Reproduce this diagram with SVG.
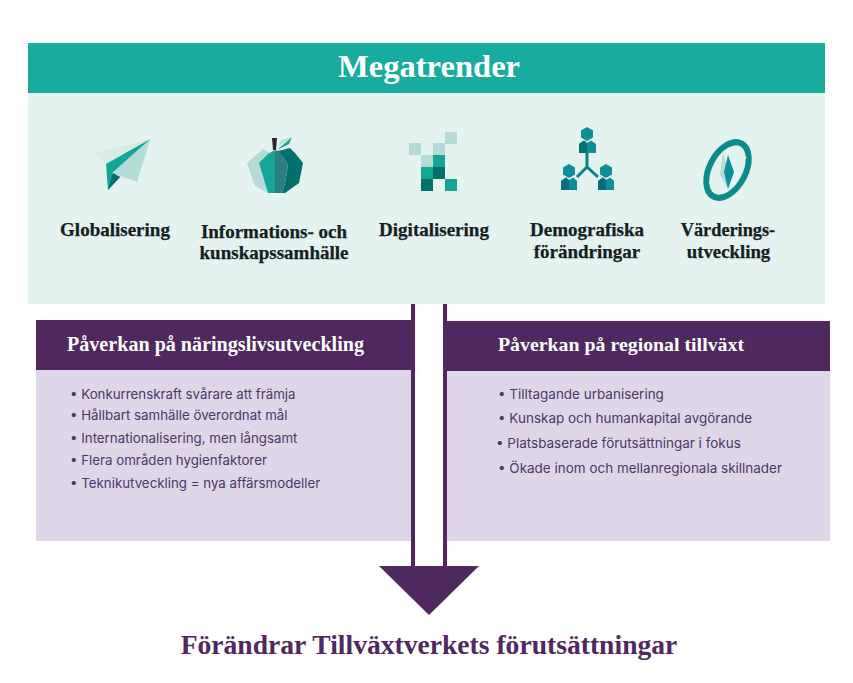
<svg xmlns="http://www.w3.org/2000/svg" width="853" height="683" viewBox="0 0 853 683">
<style>
.h{font-family:"Liberation Serif","DejaVu Serif",serif;font-weight:700}
.t{font-size:19px;fill:#14201f;text-anchor:middle;stroke:#14201f;stroke-width:.25}
.p{font-size:20.100px;fill:#fff}
.b{font-family:"Inter","Noto Sans",sans-serif;font-size:13.300px;fill:#4b3668}
.r{font-size:13.480px}
.pu{fill:#4f2860}.li{fill:#e0d6e9}
.a{fill:#b4dbd5}.c{fill:#14a597}.d{fill:#04706c}.e{fill:#0b8f98}.f{fill:#056f77}
</style>
<rect width="853" height="683" fill="#fff"/>
<g id="megatrender">
<rect x="28" y="93" width="797" height="211" fill="#e4f2f0"/>
<rect x="28" y="43" width="797" height="50" fill="#18ac9e"/>
<text x="429" y="77" text-anchor="middle" class="h" font-size="32.600" fill="#fff">Megatrender</text>
</g>
<g id="globalisering">
<path d="M95 153 150.300 139 106 164Z" fill="#d7ebe7"/>
<path d="M150.300 139 137 182 112 173Z" class="a"/>
<path d="M106 164 150.300 139 112 173 120 177 108 190Z" class="c"/>
<path d="M113 173 120 177 108 190Z" class="d"/>
<text x="115" y="236" class="h t">Globalisering</text>
</g>
<g id="informationssamhalle">
<path d="M263 149 270 153 259 163 268 193 255 186 247 163Z" class="a"/>
<path d="M259 163 268 154 275 150V193H268Z" class="c"/>
<path d="M275 150 282 155 288 165 285 183 282 193H275Z" fill="#2d7f7d"/>
<path d="M275 150 278 151 290 148 295 153 303 163 299 183 285 193H282L285 183 288 165 282 155Z" class="d"/>
<path d="M272 138H277L276 150H273Z" fill="#2a2a2a"/>
<path d="M277 150 292 137 289 144Z" class="c"/>
<path d="M277 147 282 140 292 137Z" class="a"/>
<text x="274" y="238" class="h t">Informations- och</text>
<text x="274" y="259" class="h t">kunskapssamhälle</text>
</g>
<g id="digitalisering">
<rect x="445" y="132" width="12" height="12" class="a"/>
<rect x="409" y="143" width="12" height="12" class="a"/>
<rect x="433" y="143" width="12" height="12" class="a"/>
<rect x="421" y="155" width="12" height="12" class="a"/>
<rect x="433" y="155" width="12" height="12" class="c"/>
<rect x="421" y="167" width="12" height="12" class="c"/>
<rect x="433" y="167" width="12" height="12" class="d"/>
<rect x="421" y="179" width="12" height="12" class="d"/>
<rect x="445" y="179" width="12" height="12" class="c"/>
<text x="434" y="236" class="h t">Digitalisering</text>
</g>
<g id="demografiska">
<path d="M587 127 593 130.500V137.500L587 141 581 137.500V130.500Z" class="e"/>
<path d="M579 144 584 140.500 587 143 591 140.500 596 144V153H579Z" class="e"/>
<path d="M587 143V153H579V144L584 140.500Z" class="f"/>
<path d="M569 164 575 167.500V174.500L569 178 563 174.500V167.500Z" class="e"/>
<path d="M561 181 566 177.500 569 180 573 177.500 577 181V190H561Z" class="e"/>
<path d="M569 180V190H561V181L566 177.500Z" class="f"/>
<path d="M606 164 612 167.500V174.500L606 178 600 174.500V167.500Z" class="e"/>
<path d="M598 181 603 177.500 606 180 610 177.500 614 181V190H598Z" class="e"/>
<path d="M606 180V190H598V181L603 177.500Z" class="f"/>
<path d="M587 153V167M577 177 587 167 598 177" fill="none" stroke="#0b7f85" stroke-width="3"/>
<text x="587" y="236" class="h t">Demografiska</text>
<text x="587" y="258" class="h t">förändringar</text>
</g>
<g id="varderingsutveckling">
<ellipse cx="727.500" cy="170" rx="18" ry="30" transform="rotate(28 727.500 170)" fill="#e4f2f0" stroke="#0b8c8c" stroke-width="6"/>
<path d="M723 152 728 172 728 189 720 175Z" class="a"/>
<path d="M728 155 734 172 728 189 724 172Z" class="e"/>
<path d="M746 157 743 160M709 183 712 182" fill="none" stroke="#e4f2f0" stroke-width="2"/>
<text x="728" y="236" class="h t" style="font-size:18.300px">Värderings-</text>
<text x="728.500" y="258" class="h t" style="font-size:18.800px">utveckling</text>
</g>
<g id="naringsliv">
<rect x="36" y="370" width="377" height="171" class="li"/>
<rect x="36" y="320" width="377" height="50" class="pu"/>
<text x="67" y="351" class="h p">Påverkan på näringslivsutveckling</text>
<text class="b" x="70" y="399">• Konkurrenskraft svårare att främja</text>
<text class="b" x="70" y="420">• Hållbart samhälle överordnat mål</text>
<text class="b" x="70" y="443">• Internationalisering, men långsamt</text>
<text class="b" x="70" y="465">• Flera områden hygienfaktorer</text>
<text class="b" x="70" y="488">• Teknikutveckling = nya affärsmodeller</text>
</g>
<g id="regional">
<rect x="446" y="371" width="384" height="170" class="li"/>
<rect x="446" y="321" width="384" height="50" class="pu"/>
<text x="498" y="351" class="h p" style="font-size:19.850px">Påverkan på regional tillväxt</text>
<text class="b r" x="498" y="399">• Tilltagande urbanisering</text>
<text class="b r" x="498" y="423">• Kunskap och humankapital avgörande</text>
<text class="b r" x="496" y="448">• Platsbaserade förutsättningar i fokus</text>
<text class="b r" x="498" y="473">• Ökade inom och mellanregionala skillnader</text>
</g>
<g id="connectors">
<path d="M411 304H415V566H411ZM443 304H447V566H443Z" class="pu"/>
<path d="M379 566H479L429 615Z" class="pu"/>
</g>
<g id="slutsats">
<text x="429" y="654" text-anchor="middle" class="h" font-size="27.600" fill="#4f2860">Förändrar Tillväxtverkets förutsättningar</text>
</g>
</svg>
